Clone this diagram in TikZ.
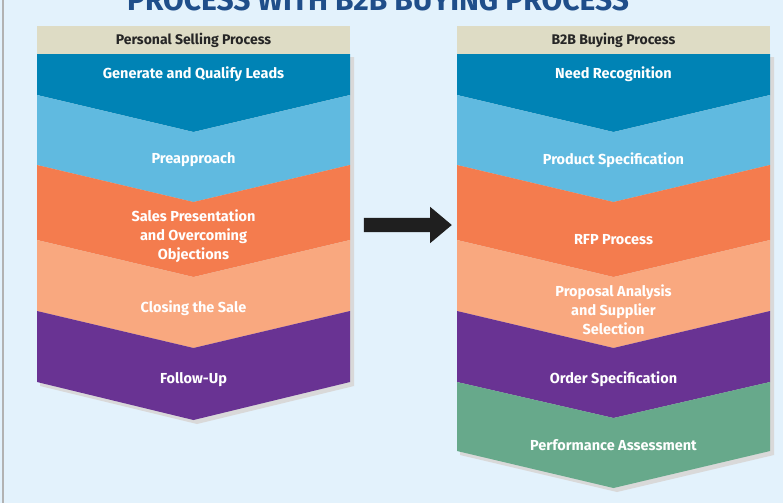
\documentclass[tikz,border=0pt]{standalone}
\usepackage{fontspec}
\setmainfont{Fira Sans}
\usetikzlibrary{shapes.arrows}
\definecolor{bg}{HTML}{E3F2FC}
\definecolor{hdr}{HTML}{DEDCC5}
\definecolor{cA}{HTML}{0083B5}
\definecolor{cB}{HTML}{60BAE0}
\definecolor{cC}{HTML}{F47C4E}
\definecolor{cD}{HTML}{F9A87F}
\definecolor{cE}{HTML}{693393}
\definecolor{cF}{HTML}{67A98B}
\definecolor{ttl}{HTML}{1F4E8A}
\begin{document}
\begin{tikzpicture}[x=1pt,y=-1pt,
  lbl/.style={text=white,font=\fontsize{14.5}{19}\selectfont\bfseries,align=center},
  hd/.style={text=black!85,font=\fontsize{14}{16}\selectfont\bfseries}]
\useasboundingbox (0,0) rectangle (783,503);
\fill[bg] (0,0) rectangle (783,503);
\draw[gray!60,line width=1.2] (3,0) -- (3,503);
\node[anchor=base,text=ttl,font=\fontsize{30}{32}\selectfont\bfseries] (title) at (378,11) {PROCESS WITH B2B BUYING PROCESS};
% shadows
\fill[black!15] (40,57) rectangle (354,386) -- (354,386) -- (197,424) -- (40,386) -- cycle;
\fill[black!15] (460,57) rectangle (774,455) -- (774,455) -- (617,492) -- (460,455) -- cycle;
% left column
\def\L{37}\def\R{350}\def\C{193.5}
\fill[hdr] (\L,26) rectangle (\R,54);
\fill[cA] (\L,54) -- (\R,54) -- (\R,95) -- (\C,132) -- (\L,95) -- cycle;
\fill[cB] (\L,95) -- (\C,132) -- (\R,95) -- (\R,165) -- (\C,202) -- (\L,165) -- cycle;
\fill[cC] (\L,165) -- (\C,202) -- (\R,165) -- (\R,240) -- (\C,277) -- (\L,240) -- cycle;
\fill[cD] (\L,240) -- (\C,277) -- (\R,240) -- (\R,311) -- (\C,348) -- (\L,311) -- cycle;
\fill[cE] (\L,311) -- (\C,348) -- (\R,311) -- (\R,382) -- (\C,420) -- (\L,382) -- cycle;
\node[hd] (lh) at (\C,40) {Personal Selling Process};
\node[lbl] (l1) at (\C,74) {Generate and Qualify Leads};
\node[lbl] (l2) at (\C,160) {Preapproach};
\node[lbl] (l3) at (\C,236) {Sales Presentation\\and Overcoming\\Objections};
\node[lbl] (l4) at (\C,308) {Closing the Sale};
\node[lbl] (l5) at (\C,380) {Follow-Up};
% right column
\def\L{457}\def\R{770}\def\C{613.5}
\fill[hdr] (\L,26) rectangle (\R,54);
\fill[cA] (\L,54) -- (\R,54) -- (\R,95) -- (\C,132) -- (\L,95) -- cycle;
\fill[cB] (\L,95) -- (\C,132) -- (\R,95) -- (\R,165) -- (\C,202) -- (\L,165) -- cycle;
\fill[cC] (\L,165) -- (\C,202) -- (\R,165) -- (\R,240) -- (\C,277) -- (\L,240) -- cycle;
\fill[cD] (\L,240) -- (\C,277) -- (\R,240) -- (\R,311) -- (\C,348) -- (\L,311) -- cycle;
\fill[cE] (\L,311) -- (\C,348) -- (\R,311) -- (\R,382) -- (\C,418) -- (\L,382) -- cycle;
\fill[cF] (\L,382) -- (\C,418) -- (\R,382) -- (\R,451) -- (\C,488) -- (\L,451) -- cycle;
\node[hd] (rh) at (\C,40) {B2B Buying Process};
\node[lbl] (r1) at (\C,74) {Need Recognition};
\node[lbl] (r2) at (\C,160) {Product Specification};
\node[lbl] (r3) at (\C,240) {RFP Process};
\node[lbl] (r4) at (\C,310) {Proposal Analysis\\and Supplier\\Selection};
\node[lbl] (r5) at (\C,379) {Order Specification};
\node[lbl] (r6) at (\C,445) {Performance Assessment};
% arrow
\node[single arrow,fill=black!88,minimum height=88,minimum width=36,
  single arrow head extend=11,inner xsep=0,inner ysep=7,
  shape border uses incircle=false,single arrow tip angle=80] (arr) at (403.5,225) {};
\end{tikzpicture}
\end{document}
